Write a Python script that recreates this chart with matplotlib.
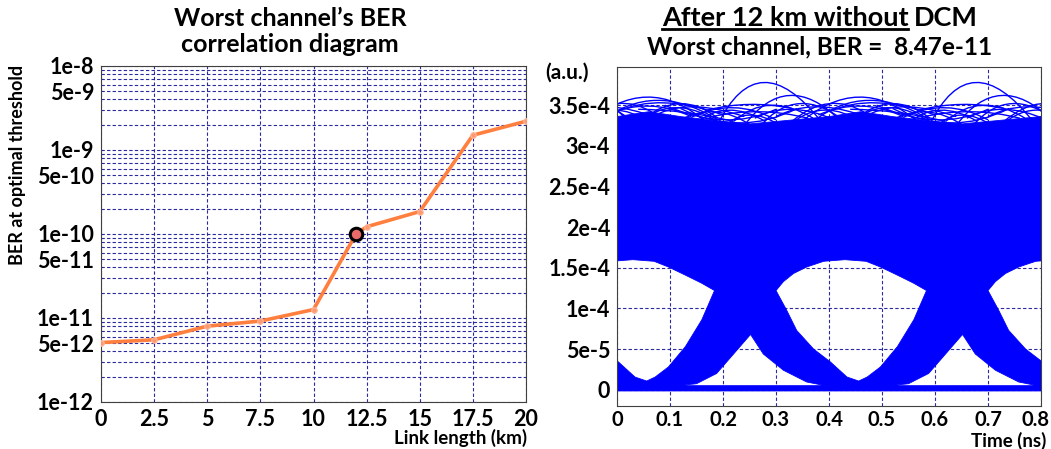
import numpy as np
import matplotlib
matplotlib.use('Agg')
import matplotlib.pyplot as plt
import matplotlib.transforms as mtrans
from matplotlib.path import Path
from matplotlib.patches import PathPatch
from matplotlib.ticker import FixedLocator, NullFormatter, LogLocator

plt.rcParams['font.family'] = ['Lato', 'DejaVu Sans']
plt.rcParams['font.weight'] = 'bold'

# ---- left chart: worst channel BER vs link length ----
link_km = [0, 2.5, 5, 7.5, 10, 12, 12.5, 15, 17.5, 20]
worst_ber = [5.1e-12, 5.5e-12, 8.0e-12, 9.2e-12, 1.26e-11, 1.0e-10,
             1.22e-10, 1.85e-10, 1.5e-9, 2.2e-9]
marked_km = 12
marked_ber = 1.0e-10
ber_ticks = [1e-12, 5e-12, 1e-11, 5e-11, 1e-10, 5e-10, 1e-9, 5e-9, 1e-8]
ber_labels = ['1e-12', '5e-12', '1e-11', '5e-11', '1e-10', '5e-10',
              '1e-9', '5e-9', '1e-8']
km_ticks = [0, 2.5, 5, 7.5, 10, 12.5, 15, 17.5, 20]
km_labels = ['0', '2.5', '5', '7.5', '10', '12.5', '15', '17.5', '20']

# ---- right chart: eye diagram after 12 km ----
ui = 0.4  # ns, the eye pattern repeats every bit
time_ticks = [0, 0.1, 0.2, 0.3, 0.4, 0.5, 0.6, 0.7, 0.8]
time_labels = ['0', '0.1', '0.2', '0.3', '0.4', '0.5', '0.6', '0.7', '0.8']
amp_ticks = [0, 5e-5, 1e-4, 1.5e-4, 2e-4, 2.5e-4, 3e-4, 3.5e-4]
amp_labels = ['0', '5e-5', '1e-4', '1.5e-4', '2e-4', '2.5e-4', '3e-4', '3.5e-4']

# top of the dense trace band over one bit
band_t = [0.0, 0.06, 0.12, 0.2, 0.25, 0.3, 0.35, 0.4]
band_top = [3.36e-4, 3.42e-4, 3.36e-4, 3.30e-4, 3.27e-4, 3.30e-4, 3.33e-4, 3.36e-4]
band_floor = -1.5e-6

# open eye outline (eye centred near 0.45 ns)
eye_t = [0.300, 0.314, 0.333, 0.358, 0.390, 0.430, 0.470, 0.497, 0.529, 0.560,
         0.584, 0.560, 0.529, 0.497, 0.472, 0.456, 0.434, 0.403, 0.371, 0.339, 0.320]
eye_v = [1.22e-4, 1.33e-4, 1.43e-4, 1.51e-4, 1.58e-4, 1.60e-4, 1.58e-4, 1.51e-4,
         1.41e-4, 1.31e-4, 1.22e-4, 8.6e-5, 5.3e-5, 2.8e-5, 1.56e-5, 1.07e-5,
         1.56e-5, 3.4e-5, 5.0e-5, 7.3e-5, 9.8e-5]

# open area below the crossing (crossing near 0.25 ns)
gap_t = [0.115, 0.150, 0.188, 0.220, 0.252, 0.276, 0.314, 0.358, 0.393]
gap_v = [5.0e-6, 7.4e-6, 2.0e-5, 4.4e-5, 6.8e-5, 4.4e-5, 2.4e-5, 9.5e-6, 5.0e-6]

# single traces standing out above the band: (start, top, end) per trace
arc_start = [(-0.06, 3.25e-4), (-0.03, 3.30e-4), (0.00, 3.42e-4), (0.03, 3.22e-4),
             (0.08, 3.40e-4), (0.10, 3.24e-4), (0.14, 3.35e-4), (0.19, 3.26e-4),
             (0.24, 3.25e-4), (0.22, 3.30e-4), (0.27, 3.24e-4), (0.30, 3.36e-4),
             (0.17, 3.44e-4), (0.20, 3.22e-4), (0.32, 3.22e-4), (0.05, 3.33e-4),
             (0.12, 3.46e-4), (0.09, 3.50e-4), (-0.02, 3.38e-4), (0.04, 3.45e-4),
             (0.15, 3.28e-4), (0.26, 3.34e-4), (0.33, 3.30e-4), (0.18, 3.36e-4)]
arc_top = [(0.056, 3.60e-4), (0.075, 3.56e-4), (0.09, 3.53e-4), (0.11, 3.47e-4),
           (0.15, 3.48e-4), (0.18, 3.42e-4), (0.22, 3.47e-4), (0.277, 3.78e-4),
           (0.325, 3.62e-4), (0.29, 3.50e-4), (0.345, 3.52e-4), (0.37, 3.48e-4),
           (0.25, 3.51e-4), (0.25, 3.38e-4), (0.39, 3.44e-4), (0.12, 3.52e-4),
           (0.23, 3.28e-4), (0.20, 3.32e-4), (0.06, 3.49e-4), (0.13, 3.41e-4),
           (0.21, 3.44e-4), (0.33, 3.45e-4), (0.40, 3.52e-4), (0.27, 3.42e-4)]
arc_end = [(0.17, 3.28e-4), (0.19, 3.32e-4), (0.20, 3.38e-4), (0.20, 3.25e-4),
           (0.24, 3.36e-4), (0.26, 3.22e-4), (0.30, 3.32e-4), (0.385, 3.30e-4),
           (0.42, 3.32e-4), (0.37, 3.34e-4), (0.43, 3.30e-4), (0.45, 3.40e-4),
           (0.33, 3.46e-4), (0.31, 3.24e-4), (0.47, 3.26e-4), (0.19, 3.34e-4),
           (0.34, 3.46e-4), (0.30, 3.45e-4), (0.14, 3.36e-4), (0.22, 3.30e-4),
           (0.28, 3.30e-4), (0.41, 3.32e-4), (0.47, 3.40e-4), (0.36, 3.34e-4)]

W, H = 1051, 449
fig = plt.figure(figsize=(W / 100, H / 100), dpi=100)
grid_kw = dict(color='#2a2aa0', linestyle=(0, (3, 2)), linewidth=0.8)
tick_size = 15.5

# ---------------- left panel ----------------
ax1 = fig.add_axes([101 / W, 1 - 402 / H, 425 / W, 336 / H])
ax1.set_yscale('log')
ax1.set_ylim(1e-12, 1e-8)
ax1.set_xlim(0, 20)
ax1.yaxis.set_major_locator(FixedLocator(ber_ticks))
ax1.set_yticklabels(ber_labels)
ax1.yaxis.set_minor_locator(LogLocator(base=10, subs=range(2, 10)))
ax1.yaxis.set_minor_formatter(NullFormatter())
ax1.set_xticks(km_ticks)
ax1.set_xticklabels(km_labels)
ax1.grid(True, which='both', **grid_kw)
ax1.set_axisbelow(True)
ax1.tick_params(which='both', length=0, labelsize=tick_size, pad=5)
ax1.plot(link_km, worst_ber, color='#ff7f3f', linewidth=2.6, marker='o',
         markersize=4, markerfacecolor='#ff9a70', markeredgecolor='#ffb8a0',
         markeredgewidth=0.8, zorder=3)
ax1.plot([marked_km], [marked_ber], marker='o', markersize=9,
         markerfacecolor='#e86a6a', markeredgecolor='black',
         markeredgewidth=2.2, zorder=4)
for s in ax1.spines.values():
    s.set_color('#404040')

fig.text(290 / W, 1 - 18 / H, 'Worst channel\u2019s BER', ha='center',
         va='center', fontsize=18)
fig.text(290 / W, 1 - 45 / H, 'correlation diagram', ha='center',
         va='center', fontsize=18)
fig.text(18 / W, 1 - 165 / H, 'BER at optimal threshold', rotation=90,
         ha='center', va='center', fontsize=13)
fig.text(527 / W, 1 - 438 / H, 'Link length (km)', ha='right', va='center',
         fontsize=13.5)

# ---------------- right panel ----------------
ax2 = fig.add_axes([617 / W, 1 - 406 / H, 424 / W, 339 / H])
ax2.set_xlim(0, 0.8)
ax2.set_ylim(-2e-5, 3.97e-4)
ax2.set_xticks(time_ticks)
ax2.set_xticklabels(time_labels)
ax2.set_yticks(amp_ticks)
ax2.set_yticklabels(amp_labels)
ax2.grid(True, **grid_kw)
ax2.set_axisbelow(True)
ax2.tick_params(length=0, labelsize=tick_size, pad=5)
ax2.tick_params(axis='x', labelsize=14.5, pad=3)
for s in ax2.spines.values():
    s.set_color('#404040')
# keep the last time label inside the picture
last = ax2.get_xticklabels()[-1]
last.set_transform(last.get_transform() +
                   mtrans.ScaledTranslation(-5 / 100, 0, fig.dpi_scale_trans))


def ring(ts, vs, ccw):
    pts = np.column_stack([ts, vs])
    area = np.sum(pts[:-1, 0] * pts[1:, 1] - pts[1:, 0] * pts[:-1, 1])
    area += pts[-1, 0] * pts[0, 1] - pts[0, 0] * pts[-1, 1]
    if (area > 0) != ccw:
        pts = pts[::-1]
    codes = [Path.MOVETO] + [Path.LINETO] * (len(pts) - 1) + [Path.CLOSEPOLY]
    return np.vstack([pts, pts[:1]]), codes


shifts = [-ui, 0.0, ui, 2 * ui]
top_t, top_v = [], []
for k, sh in enumerate(shifts):
    start = 0 if k == 0 else 1
    top_t += [t + sh for t in band_t[start:]]
    top_v += band_top[start:]
outer_t = top_t + [top_t[-1], top_t[0]]
outer_v = top_v + [band_floor, band_floor]

verts, codes = ring(outer_t, outer_v, True)
verts, codes = [verts], list(codes)
for sh in [-ui, 0.0, ui]:
    for ts, vs in [(eye_t, eye_v), (gap_t, gap_v)]:
        v, c = ring([t + sh for t in ts], vs, False)
        verts.append(v)
        codes += c
blue = PathPatch(Path(np.vstack(verts), codes), facecolor='#0000ff',
                 edgecolor='#0000ff', linewidth=0.6, zorder=1)
ax2.add_patch(blue)

for sh in [-ui, 0.0, ui]:
    for p0, pk, p1 in zip(arc_start, arc_top, arc_end):
        c = (2 * pk[0] - 0.5 * (p0[0] + p1[0]), 2 * pk[1] - 0.5 * (p0[1] + p1[1]))
        path = Path([(p0[0] + sh, p0[1]), (c[0] + sh, c[1]), (p1[0] + sh, p1[1])],
                    [Path.MOVETO, Path.CURVE3, Path.CURVE3])
        ax2.add_patch(PathPatch(path, facecolor='none', edgecolor='#0000ff',
                                linewidth=1.0, zorder=2))

fig.text(567 / W, 1 - 73 / H, '(a.u.)', ha='center', va='center', fontsize=15)
fig.text(1046 / W, 1 - 441 / H, 'Time (ns)', ha='right', va='center',
         fontsize=13.5)

# title with the first part underlined
part1 = fig.text(0, 1 - 18 / H, 'After 12 km without', ha='left', va='center',
                 fontsize=19.5)
part2 = fig.text(0, 1 - 18 / H, 'DCM', ha='left', va='center', fontsize=19.5)
fig.canvas.draw()
r = fig.canvas.get_renderer()
w1 = part1.get_window_extent(r).width
w2 = part2.get_window_extent(r).width
gap = 6
x_start = 820 - (w1 + gap + w2) / 2
part1.set_x(x_start / W)
part2.set_x((x_start + w1 + gap) / W)
bb = part1.get_window_extent(r)
y_line = (bb.y0 + 1) / H
fig.add_artist(plt.Line2D([x_start / W, (x_start + w1) / W], [y_line, y_line],
                          transform=fig.transFigure, color='black',
                          linewidth=2.0))
fig.text(820 / W, 1 - 47 / H, 'Worst channel, BER =  8.47e-11', ha='center',
         va='center', fontsize=17.5)

fig.savefig('out.png', dpi=100)
